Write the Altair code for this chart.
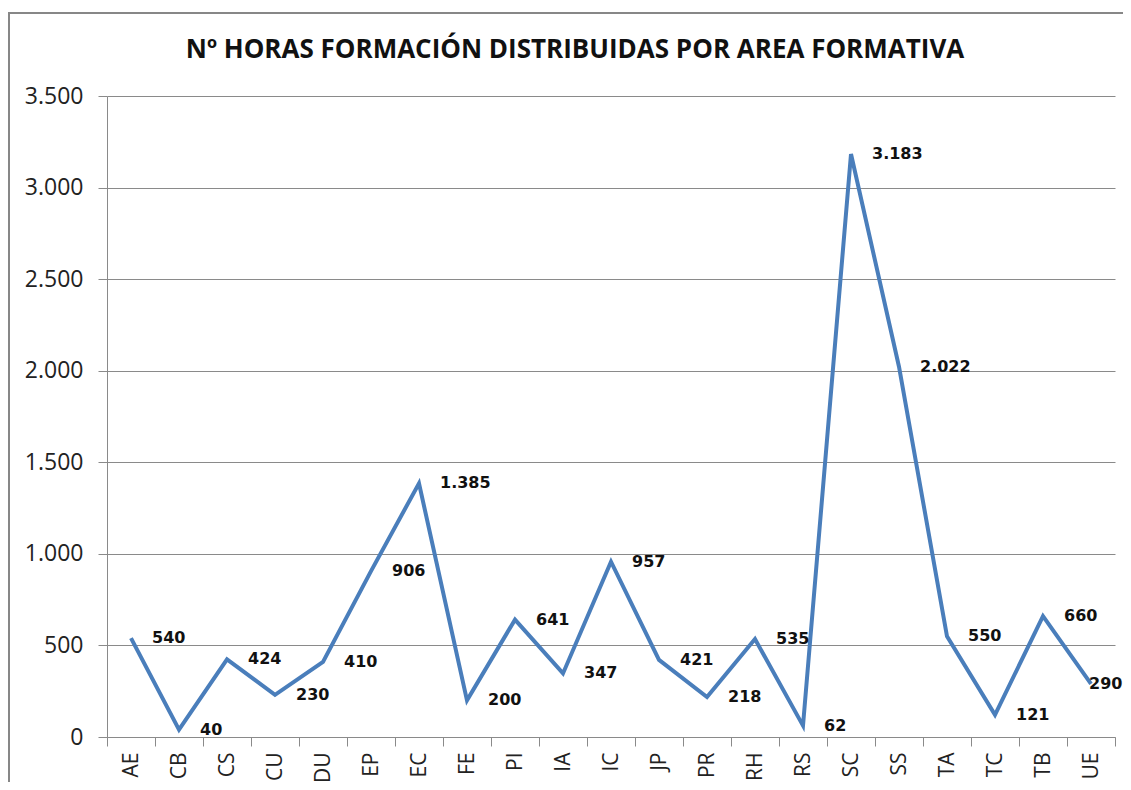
import altair as alt
import pandas as pd

categories = ["AE", "CB", "CS", "CU", "DU", "EP", "EC", "FE", "PI", "IA", "IC",
              "JP", "PR", "RH", "RS", "SC", "SS", "TA", "TC", "TB", "UE"]
hours = [540, 40, 424, 230, 410, 906, 1385, 200, 641, 347, 957,
         421, 218, 535, 62, 3183, 2022, 550, 121, 660, 290]
y_ticks = [0, 500, 1000, 1500, 2000, 2500, 3000, 3500]
title_text = "Nº HORAS FORMACIÓN DISTRIBUIDAS POR AREA FORMATIVA"

df = pd.DataFrame({"cat": categories, "v": hours})

GRAY = "#8a8a8a"

x_enc = alt.X(
    "cat:N", sort=categories, bandPosition=0.5,
    scale=alt.Scale(type="band", paddingInner=0, paddingOuter=0),
    axis=alt.Axis(title=None, tickBand="extent", labelAngle=270, labelAlign="right",
                  labelBaseline="middle", labelPadding=6, tickSize=9, tickColor=GRAY,
                  domainColor=GRAY, grid=False, labelFont="Open Sans", labelFontSize=21,
                  labelColor="#222222"),
)
y_enc = alt.Y(
    "v:Q", scale=alt.Scale(domain=[0, 3500], nice=False),
    axis=alt.Axis(title=None, values=y_ticks, grid=True, gridColor=GRAY, gridWidth=1,
                  tickSize=9, tickColor=GRAY, domainColor=GRAY, labelPadding=15,
                  labelFont="Open Sans", labelFontSize=23, labelColor="#222222",
                  labelExpr="replace(format(datum.value, ','), ',', '.')"),
)

base = alt.Chart(df)

line = base.mark_line(color="#4a7ebb", strokeWidth=4).encode(x=x_enc, y=y_enc)

lbl_base = base.transform_calculate(
    lbl="replace(format(datum.v, ','), ',', '.')"
)
lbl_enc = dict(x=alt.X("cat:N", sort=categories, bandPosition=0.5), y="v:Q", text="lbl:N")
lbl_style = dict(align="left", baseline="middle", font="DejaVu Sans",
                 fontWeight="bold", fontSize=16, color="#111111")

labels = lbl_base.transform_filter(alt.datum.cat != categories[-1]).mark_text(
    dx=21, **lbl_style).encode(**lbl_enc)
labels_last = lbl_base.transform_filter(alt.datum.cat == categories[-1]).mark_text(
    dx=-2, **lbl_style).encode(**lbl_enc)

one = alt.Chart(pd.DataFrame({"k": [0]}))
frame = one.mark_rect(fill=None, stroke="#878787", strokeWidth=2).encode(
    x=alt.value(-98), x2=alt.value(1040), y=alt.value(-83), y2=alt.value(720))

title = one.mark_text(font="Open Sans", fontSize=26, fontWeight="bold", color="#111111",
                      align="center", baseline="alphabetic").encode(
    x=alt.value(468), y=alt.value(-38), text=alt.value(title_text))

chart = alt.layer(frame, line, labels, labels_last, title).properties(
    width=1008, height=641,
    autosize=alt.AutoSizeParams(type="none"),
    padding={"left": 99, "top": 88, "right": 8, "bottom": 45},
).configure_view(stroke=None)

chart.save("out.html", embed_options={"renderer": "svg", "actions": False})
